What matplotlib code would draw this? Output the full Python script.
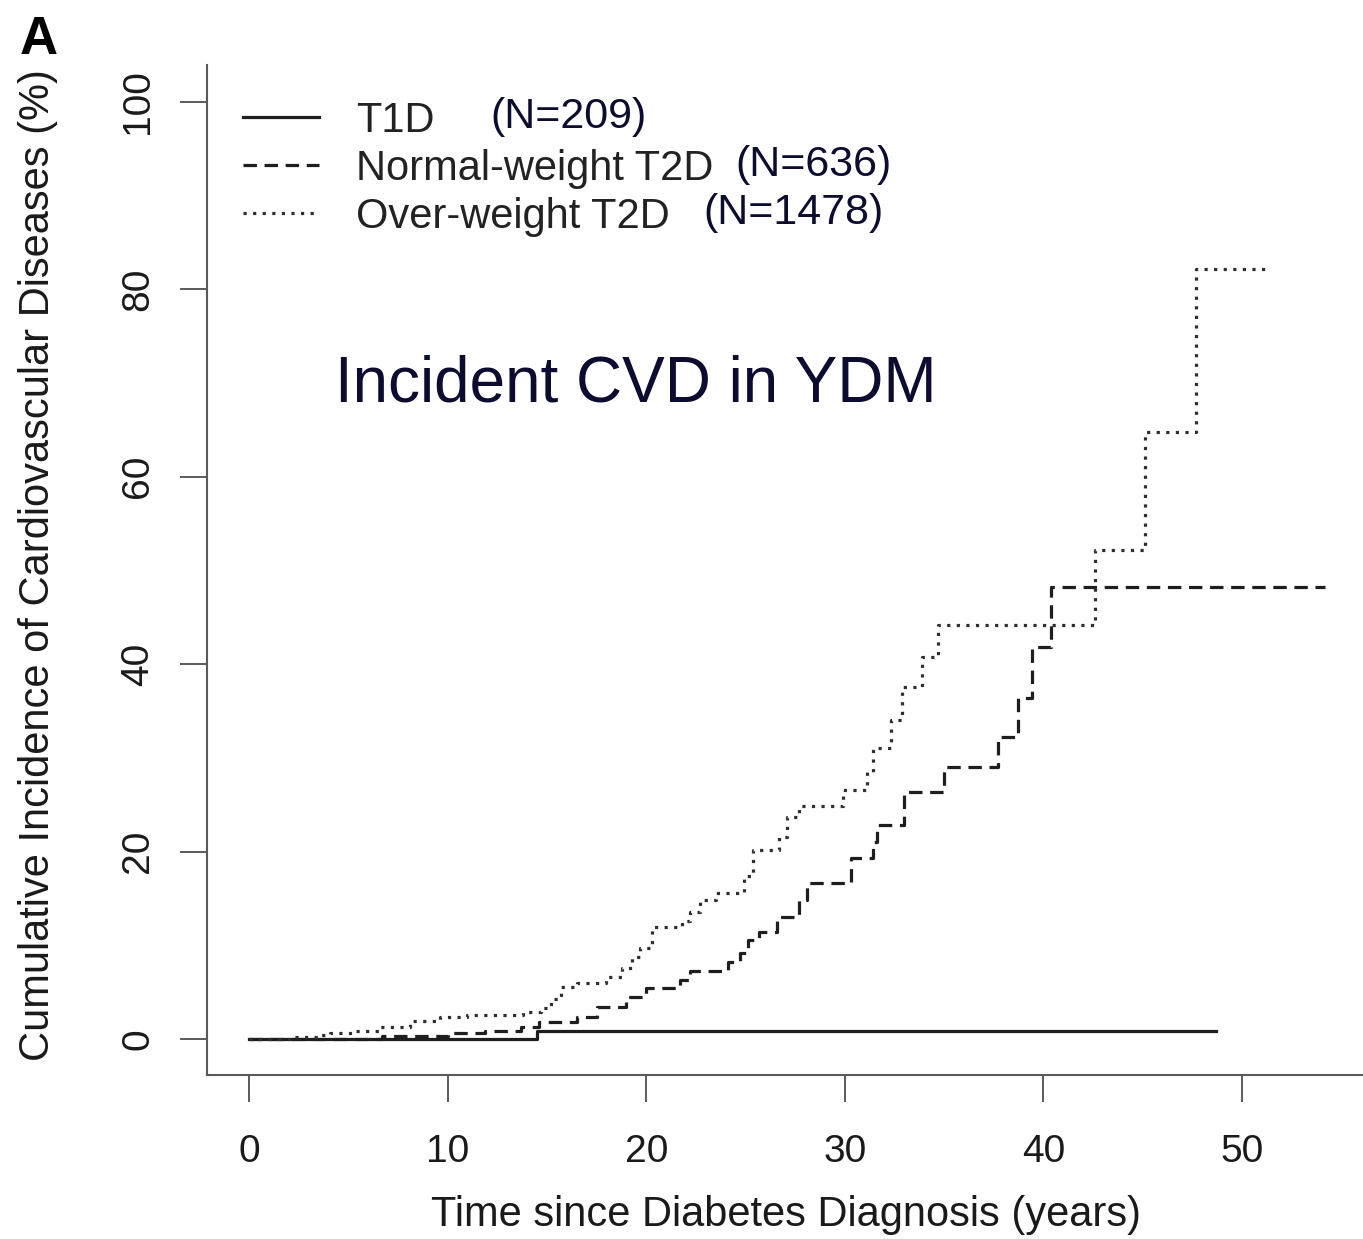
import matplotlib
matplotlib.use("Agg")
import matplotlib.pyplot as plt

# Kaplan-Meier style step data (years, cumulative incidence %)
t1d_time = [0, 14.5, 48.7]
t1d_cum = [0, 0.9, 0.9]

nw_time = [0, 6.7, 10.0, 11.9, 13.7, 14.6, 16.5, 17.5, 19.0, 20.0, 21.7, 22.2,
           24.1, 24.7, 25.1, 25.7, 26.6, 27.7, 28.1, 30.3, 31.4, 31.6, 33.0,
           35.0, 37.7, 38.7, 39.4, 40.4, 54.2]
nw_cum = [0, 0.3, 0.6, 0.85, 1.3, 1.8, 2.3, 3.4, 4.5, 5.4, 6.3, 7.3,
          8.2, 9.2, 10.6, 11.4, 13.0, 14.8, 16.6, 19.3, 21.0, 22.8, 26.4,
          29.0, 32.2, 36.4, 41.8, 48.2, 48.2]

ow_time = [0, 2.0, 3.5, 4.1, 5.3, 6.6, 8.1, 9.6, 11.0, 13.8, 14.7, 15.2, 15.7,
           16.5, 18.0, 18.8, 19.3, 19.7, 20.3, 21.8, 22.2, 22.7, 23.5, 24.9,
           25.4, 26.7, 27.1, 27.7, 29.9, 31.1, 31.4, 32.3, 32.9, 33.9, 34.7,
           42.6, 45.1, 47.7, 51.3]
ow_cum = [0, 0.2, 0.4, 0.6, 0.9, 1.3, 1.9, 2.3, 2.6, 2.9, 3.3, 4.3, 5.5,
          6.0, 6.6, 7.6, 8.8, 9.7, 12.0, 12.6, 13.6, 14.8, 15.6, 17.4,
          20.2, 21.5, 23.7, 24.9, 26.6, 28.5, 31.0, 34.0, 37.6, 40.8, 44.2,
          52.2, 64.7, 82.1, 82.1]

labels = ["T1D", "Normal-weight T2D", "Over-weight T2D"]
n_labels = ["(N=209)", "(N=636)", "(N=1478)"]
x_ticks = [0, 10, 20, 30, 40, 50]
y_ticks = [0, 20, 40, 60, 80, 100]

W, H = 1363, 1239
plt.rcParams['font.family'] = ['Liberation Sans', 'DejaVu Sans']


def fx(x):
    return x / W


def fy(y):
    return 1 - y / H


fig = plt.figure(figsize=(W / 100, H / 100), dpi=100)
ax = fig.add_axes([fx(207), fy(1075), fx(1362) - fx(207), fy(65) - fy(1075)])

line_col = '#1e1e1e'
lw = 2.3
ax.step(t1d_time, t1d_cum, where='post', color=line_col, lw=lw, label=labels[0])
ax.step(nw_time, nw_cum, where='post', color=line_col, lw=lw,
        dashes=(4.2, 2.4), label=labels[1])
ax.step(ow_time, ow_cum, where='post', color='#2e2e2e', lw=lw,
        dashes=(1.0, 2.0), label=labels[2])

ax.set_xlim(-2.115, 56.04)
ax.set_ylim(-3.84, 103.9)
ax.set_xticks(x_ticks)
ax.set_yticks(y_ticks)

spine_col = '#5a5a5a'
for s in ['top', 'right']:
    ax.spines[s].set_visible(False)
for s in ['left', 'bottom']:
    ax.spines[s].set_color(spine_col)
    ax.spines[s].set_linewidth(1.5)

ax.tick_params(axis='both', length=19.5, width=1.4, color=spine_col,
               labelsize=28, labelcolor='#1a1a1a')
ax.tick_params(axis='x', pad=23)
ax.tick_params(axis='y', pad=17)
for lab in ax.get_yticklabels():
    lab.set_rotation(90)
    lab.set_va('center')

fig.text(fx(786), fy(1215), 'Time since Diabetes Diagnosis (years)',
         fontsize=30, color='#1a1a1a', ha='center', va='center')
fig.text(fx(38), fy(565), 'Cumulative Incidence of Cardiovascular Diseases (%)',
         fontsize=30, color='#1a1a1a', ha='center', va='center', rotation=90)

leg = ax.legend(loc='upper left', bbox_to_anchor=(fx(222), fy(80)),
                bbox_transform=fig.transFigure, frameon=False, fontsize=30,
                borderpad=0, handlelength=1.82, handletextpad=0.89,
                labelspacing=0.19)
for txt in leg.get_texts():
    txt.set_color('#222222')

navy = '#0c0c30'
n_pos = [(490, 117), (735, 165), (703, 213)]
for s, (px, py) in zip(n_labels, n_pos):
    fig.text(fx(px), fy(py), s, fontsize=31, color=navy, ha='left', va='center')

fig.text(fx(335), fy(385), 'Incident CVD in YDM', fontsize=46, color=navy,
         ha='left', va='center')
fig.text(fx(20), fy(40), 'A', fontsize=38, fontweight='bold', color='black',
         ha='left', va='center')

fig.savefig('out.png', dpi=100)
